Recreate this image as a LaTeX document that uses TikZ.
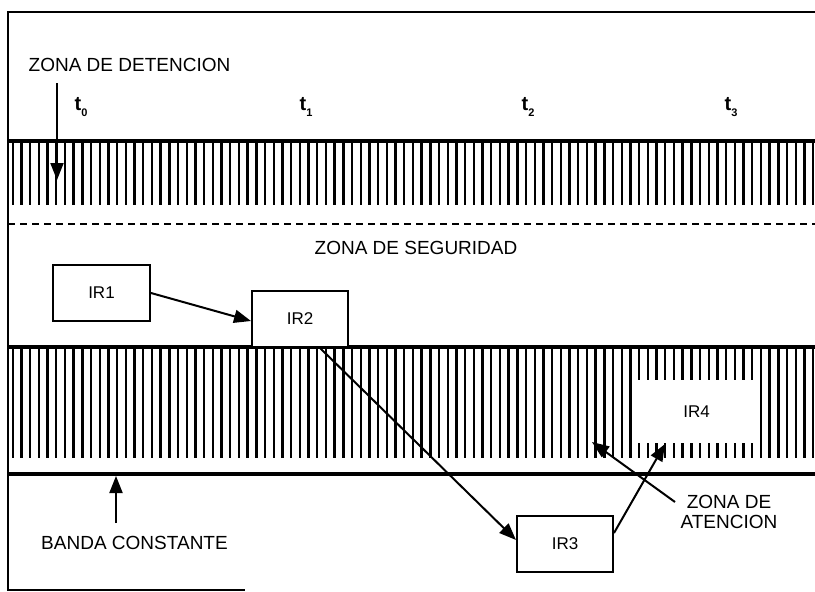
\documentclass[tikz,border=0pt]{standalone}
\usepackage{fontspec}
\setmainfont{Liberation Sans}
\usetikzlibrary{arrows.meta,calc}
\begin{document}
\begin{tikzpicture}[x=1pt,y=-1pt,
  box/.style={draw,line width=2pt,minimum width=96pt,minimum height=56pt,inner sep=0pt,font=\fontsize{17}{19}\selectfont,fill=white},
  lbl/.style={font=\fontsize{19}{21}\selectfont,inner sep=0pt,align=center},
  tlab/.style={font=\fontsize{20}{22}\selectfont\bfseries,inner sep=0pt},
  sub/.style={},
  arr/.style={line width=2pt,-{Triangle[length=17pt,width=13pt]}},
  bandline/.style={line width=3.4pt},
  stripe/.style={line width=2.4pt},
  frame/.style={line width=2.4pt}
]
\newcommand{\tsub}[1]{\raisebox{-0.5ex}{\fontsize{11}{11}\selectfont #1}}
\useasboundingbox (0,0) rectangle (815,592);
% frame
\draw[frame] (815,12) -- (8,12) -- (8,590) -- (245,590);
% top band (zona de detencion)
\draw[bandline] (8,141) -- (815,141);
\foreach \i in {0,...,92} \draw[stripe] ({12.7+8.7*\i},143) -- ({12.7+8.7*\i},205);
\draw[line width=2.2pt,dash pattern=on 7pt off 5pt] (8,224) -- (815,224);
% middle band
\draw[bandline] (8,347) -- (815,347);
\foreach \i in {0,...,92} \draw[stripe] ({12.7+8.7*\i},349) -- ({12.7+8.7*\i},458);
\draw[bandline] (8,474) -- (815,474);
% texts
\node[lbl] (zd) at (129.5,65) {ZONA DE DETENCION};
\node[lbl] (zs) at (416,248) {ZONA DE SEGURIDAD};
\node[lbl] (bc) at (134.5,543) {BANDA CONSTANTE};
\node[lbl,font=\fontsize{19}{20}\selectfont] (za) at (729,512) {ZONA DE\\ATENCION};
\node[tlab] (t0) at (81,107) {t\tsub{0}};
\node[tlab] (t1) at (306,107) {t\tsub{1}};
\node[tlab] (t2) at (528,107) {t\tsub{2}};
\node[tlab] (t3) at (731,107) {t\tsub{3}};
% boxes
\node[box,minimum width=97pt] (ir1) at (101.5,293) {IR1};
\node[box] (ir2) at (300,319) {IR2};
\node[box] (ir3) at (565,544) {IR3};
\node[box,draw=none,minimum width=117pt,minimum height=63pt] (ir4) at (696.5,411.5) {IR4};
% coordinates for free ends
\coordinate (zdtail) at (57,83);
\coordinate (zdtip) at (57,180);
\coordinate (bctail) at (116,523);
\coordinate (bctip) at (116,476);
\coordinate (zatail) at (675,502);
\coordinate (zatip) at (592,442);
% arrows
\draw[arr] (zdtail) -- (zdtip);
\draw[arr] (bctail) -- (bctip);
\draw[arr] (zatail) -- (zatip);
\draw[arr] (ir1.east) -- ($(ir2.west)+(0,2)$);
\draw[arr] ($(ir2.south)+(20,0)$) -- ($(ir3.west)+(0,-4)$);
\draw[arr] ($(ir3.east)+(0,-11)$) -- ($(ir4.south)+(-31.5,0)$);
\end{tikzpicture}
\end{document}
